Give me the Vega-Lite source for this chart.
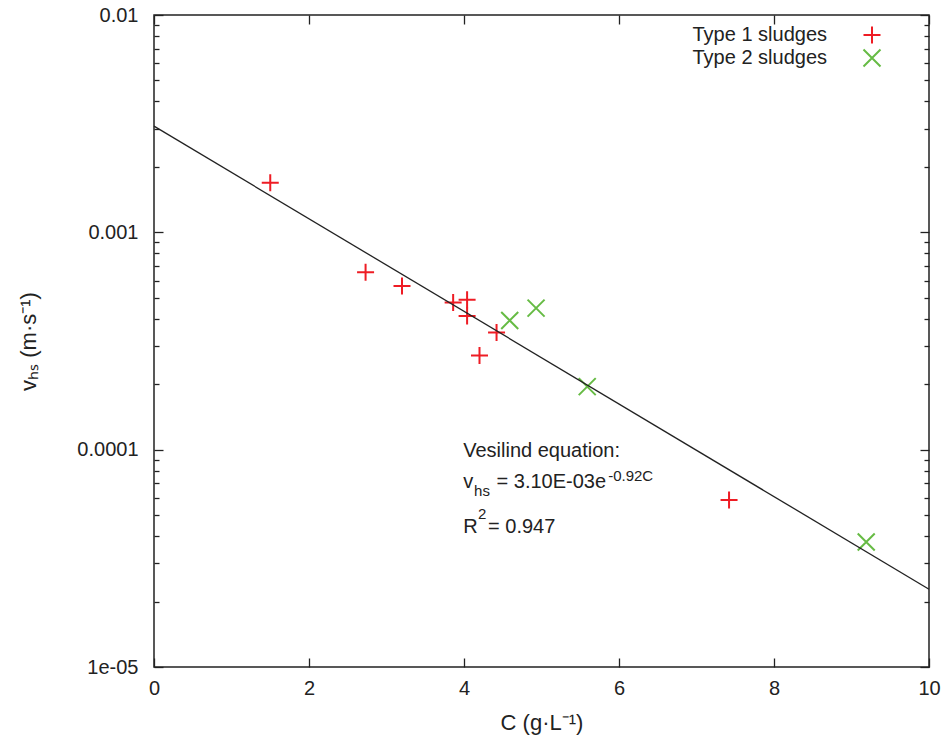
{
  "$schema": "https://vega.github.io/schema/vega-lite/v6.json",
  "width": 775,
  "height": 652,
  "autosize": {"type": "none"},
  "padding": {"left": 154, "top": 15, "right": 16, "bottom": 71},
  "background": "white",
  "config": {
    "font": "Liberation Sans",
    "view": {"stroke": "#222222", "strokeWidth": 1.5},
    "axis": {"domain": false, "grid": false, "labelFlush": false, "labelFont": "Liberation Sans", "labelFontSize": 20, "labelColor": "#222222", "titleFont": "Liberation Sans", "titleFontSize": 22, "titleFontWeight": "normal", "titleColor": "#222222", "tickColor": "#222222", "tickWidth": 1.3}
  },
  "datasets": {
    "points": [
      {"C": 1.50, "vhs": 0.00169, "type": "Type 1 sludges"},
      {"C": 2.73, "vhs": 0.000655, "type": "Type 1 sludges"},
      {"C": 3.20, "vhs": 0.000566, "type": "Type 1 sludges"},
      {"C": 3.86, "vhs": 0.000475, "type": "Type 1 sludges"},
      {"C": 4.04, "vhs": 0.000489, "type": "Type 1 sludges"},
      {"C": 4.04, "vhs": 0.000412, "type": "Type 1 sludges"},
      {"C": 4.42, "vhs": 0.000346, "type": "Type 1 sludges"},
      {"C": 4.20, "vhs": 0.000271, "type": "Type 1 sludges"},
      {"C": 7.42, "vhs": 0.0000587, "type": "Type 1 sludges"},
      {"C": 4.59, "vhs": 0.000393, "type": "Type 2 sludges"},
      {"C": 4.93, "vhs": 0.000448, "type": "Type 2 sludges"},
      {"C": 5.59, "vhs": 0.000195, "type": "Type 2 sludges"},
      {"C": 9.19, "vhs": 0.0000376, "type": "Type 2 sludges"}
    ],
    "fit": [
      {"C": 0, "vhs": 0.00308},
      {"C": 10, "vhs": 0.0000228}
    ],
    "notes": [
      {"t": "Vesilind equation:", "C": 3.99, "vhs": 0.0000923, "role": "main"},
      {"t": "v", "C": 3.99, "vhs": 0.0000665, "role": "main"},
      {"t": "hs", "C": 4.13, "vhs": 0.0000613, "role": "small"},
      {"t": "= 3.10E-03e", "C": 4.42, "vhs": 0.0000665, "role": "main"},
      {"t": "-0.92C", "C": 5.86, "vhs": 0.0000718, "role": "small"},
      {"t": "R", "C": 3.99, "vhs": 0.0000413, "role": "main"},
      {"t": "2", "C": 4.18, "vhs": 0.0000481, "role": "small"},
      {"t": "= 0.947", "C": 4.31, "vhs": 0.0000413, "role": "main"}
    ]
  },
  "layer": [
    {
      "data": {"name": "points"},
      "mark": {"type": "point", "filled": false, "strokeWidth": 2, "size": 289, "opacity": 1},
      "encoding": {
        "x": {"field": "C", "type": "quantitative", "scale": {"domain": [0, 10], "nice": false, "zero": false},
          "axis": {"orient": "bottom", "title": "C (g·L⁻¹)", "values": [0, 2, 4, 6, 8, 10], "tickSize": -9, "labelPadding": 20, "titlePadding": 14}},
        "y": {"field": "vhs", "type": "quantitative", "scale": {"type": "log", "domain": [0.00001, 0.01], "nice": false},
          "axis": {"orient": "left", "title": "vₕₛ (m·s⁻¹)", "titlePadding": 36,
            "values": [0.00001, 0.00002, 0.00003, 0.00004, 0.00005, 0.00006, 0.00007, 0.00008, 0.00009, 0.0001, 0.0002, 0.0003, 0.0004, 0.0005, 0.0006, 0.0007, 0.0008, 0.0009, 0.001, 0.002, 0.003, 0.004, 0.005, 0.006, 0.007, 0.008, 0.009, 0.01],
            "labelExpr": "abs(datum.value-0.01)<1e-9 ? '0.01' : abs(datum.value-0.001)<1e-10 ? '0.001' : abs(datum.value-0.0001)<1e-11 ? '0.0001' : abs(datum.value-0.00001)<1e-12 ? '1e-05' : ''",
            "tickSize": {"condition": {"test": "abs(log(datum.value)/LN10 - round(log(datum.value)/LN10)) < 0.001", "value": -9}, "value": -5},
            "labelPadding": 25}},
        "color": {"field": "type", "type": "nominal", "scale": {"domain": ["Type 1 sludges", "Type 2 sludges"], "range": ["#ee1c24", "#66bb44"]},
          "legend": {"title": null, "orient": "none", "legendX": 708, "legendY": 10, "labelFontSize": 20, "labelColor": "#222222", "labelAlign": "right", "labelOffset": -55, "symbolStrokeWidth": 2, "symbolSize": 289, "rowPadding": -3}},
        "shape": {"field": "type", "type": "nominal", "scale": {"domain": ["Type 1 sludges", "Type 2 sludges"], "range": ["M-1,0L1,0M0,-1L0,1", "M-1,-1L1,1M-1,1L1,-1"]}}
      }
    },
    {
      "data": {"name": "fit"},
      "mark": {"type": "line", "color": "#222222", "strokeWidth": 1.3},
      "encoding": {
        "x": {"field": "C", "type": "quantitative", "axis": {"orient": "top", "labels": false, "title": null, "values": [0, 2, 4, 6, 8, 10], "tickSize": -9}},
        "y": {"field": "vhs", "type": "quantitative",
          "axis": {"orient": "right", "labels": false, "title": null,
            "values": [0.00001, 0.00002, 0.00003, 0.00004, 0.00005, 0.00006, 0.00007, 0.00008, 0.00009, 0.0001, 0.0002, 0.0003, 0.0004, 0.0005, 0.0006, 0.0007, 0.0008, 0.0009, 0.001, 0.002, 0.003, 0.004, 0.005, 0.006, 0.007, 0.008, 0.009, 0.01],
            "tickSize": {"condition": {"test": "abs(log(datum.value)/LN10 - round(log(datum.value)/LN10)) < 0.001", "value": -9}, "value": -5}}}
      }
    },
    {
      "data": {"name": "notes"},
      "transform": [{"filter": "datum.role == 'main'"}],
      "mark": {"type": "text", "align": "left", "baseline": "alphabetic", "fontSize": 20, "color": "#222222", "font": "Liberation Sans"},
      "encoding": {
        "x": {"field": "C", "type": "quantitative", "axis": null},
        "y": {"field": "vhs", "type": "quantitative", "axis": null},
        "text": {"field": "t"}
      }
    },
    {
      "data": {"name": "notes"},
      "transform": [{"filter": "datum.role == 'small'"}],
      "mark": {"type": "text", "align": "left", "baseline": "alphabetic", "fontSize": 15, "color": "#222222", "font": "Liberation Sans"},
      "encoding": {
        "x": {"field": "C", "type": "quantitative", "axis": null},
        "y": {"field": "vhs", "type": "quantitative", "axis": null},
        "text": {"field": "t"}
      }
    }
  ],
  "resolve": {"axis": {"x": "independent", "y": "independent"}}
}
